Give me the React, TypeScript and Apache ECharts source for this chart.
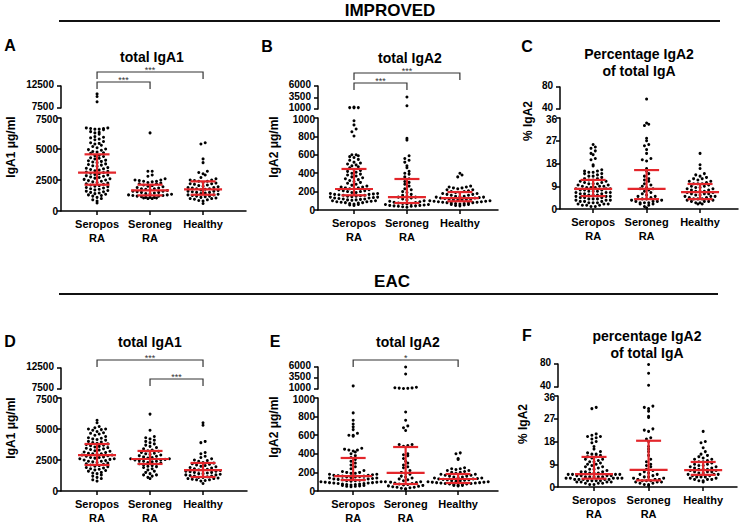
import React, { useEffect, useRef } from "react";
import * as echarts from "echarts";

// ---------- categories & ticks ----------
const categories = ["Seropos\nRA", "Seroneg\nRA", "Healthy"];
const ticksIgA1Upper = [7500, 12500];
const ticksIgA1Lower = [0, 2500, 5000, 7500];
const ticksIgA2Upper = [1000, 3500, 6000];
const ticksIgA2Lower = [0, 200, 400, 600, 800, 1000];
const ticksPctUpper = [40, 80];
const ticksPctLower = [0, 9, 18, 27, 36];

// ---------- IMPROVED: total IgA1 (A) ----------
const aSeropos = [10700, 10100, 8900, 6700, 6700, 6650, 6650, 6600, 6600, 6550, 6400, 6350, 6300, 6200, 6000, 5950, 5900, 5800, 5750, 5600, 5500, 5450, 5400, 5300, 5200, 5100, 5000, 4950, 4900, 4800, 4750, 4700, 4650, 4500, 4450, 4400, 4300, 4250, 4200, 4100, 4050, 4000, 3950, 3900, 3800, 3750, 3700, 3650, 3600, 3500, 3450, 3400, 3350, 3300, 3250, 3200, 3150, 3100, 3050, 3000, 2950, 2900, 2850, 2800, 2750, 2700, 2650, 2600, 2550, 2500, 2450, 2400, 2350, 2300, 2250, 2200, 2150, 2100, 2050, 2000, 1950, 1900, 1850, 1800, 1750, 1700, 1650, 1600, 1550, 1500, 1450, 1400, 1350, 1300, 1250, 1200, 1100, 1000, 900, 800, 650];
const aSeroneg = [6300, 3200, 3200, 2900, 2800, 2600, 2500, 2500, 2450, 2400, 2400, 2350, 2300, 2250, 2200, 2200, 2100, 2050, 2000, 1950, 1900, 1850, 1800, 1800, 1750, 1700, 1650, 1600, 1600, 1550, 1500, 1500, 1450, 1400, 1400, 1350, 1300, 1300, 1250, 1250, 1200, 1200, 1150, 1100, 1100, 1100, 1050, 1050, 1000, 1000];
const aHealthy = [5500, 5400, 4200, 3900, 3200, 3100, 3000, 2900, 2700, 2600, 2500, 2500, 2450, 2400, 2400, 2300, 2250, 2200, 2200, 2150, 2100, 2050, 2000, 1950, 1900, 1900, 1850, 1800, 1800, 1750, 1700, 1650, 1600, 1600, 1550, 1500, 1500, 1450, 1400, 1350, 1300, 1300, 1250, 1200, 1200, 1150, 1100, 1050, 1000, 1000, 950, 900, 850, 800, 600];
const aMedian = [3090, 1670, 1750];
const aQ1 = [2120, 1260, 1310];
const aQ3 = [4570, 2120, 2390];

// ---------- IMPROVED: total IgA2 (B) ----------
const bSeropos = [1450, 1300, 1300, 1250, 970, 925, 880, 850, 805, 600, 600, 590, 580, 570, 550, 540, 520, 510, 500, 490, 480, 470, 460, 440, 430, 420, 410, 400, 390, 380, 370, 360, 350, 340, 330, 320, 310, 300, 290, 280, 270, 260, 250, 250, 240, 240, 230, 230, 220, 220, 210, 210, 200, 200, 190, 190, 180, 180, 175, 170, 170, 165, 160, 160, 155, 150, 150, 145, 140, 140, 135, 130, 130, 125, 120, 120, 115, 110, 110, 105, 100, 100, 95, 90, 90, 85, 80, 80, 75, 70, 65, 60, 55, 50];
const bSeroneg = [3600, 1700, 780, 760, 590, 560, 540, 520, 480, 460, 420, 400, 390, 360, 340, 310, 300, 280, 260, 230, 220, 200, 190, 170, 160, 150, 140, 140, 130, 120, 110, 100, 95, 90, 85, 80, 75, 70, 70, 65, 60, 60, 55, 50, 50, 45, 45, 40, 40, 35, 30];
const bHealthy = [400, 380, 360, 260, 250, 250, 240, 240, 230, 220, 220, 210, 200, 200, 190, 190, 180, 180, 170, 170, 160, 160, 150, 150, 145, 140, 140, 135, 130, 130, 125, 120, 120, 115, 110, 110, 105, 100, 100, 95, 95, 90, 90, 85, 85, 80, 80, 75, 75, 70, 70, 65, 60, 60, 55, 50, 45];
const bMedian = [228, 141, 130];
const bQ1 = [160, 76, 95];
const bQ3 = [446, 337, 195];

// ---------- IMPROVED: % IgA2 (C) ----------
const cSeropos = [25.5, 24.5, 24, 23, 22, 21.5, 20, 19.5, 17.5, 17, 15.5, 15, 15, 14.5, 14.5, 14, 14, 13.5, 13, 13, 12.5, 12, 12, 11.5, 11.5, 11, 11, 10.5, 10.5, 10, 10, 10, 9.5, 9.5, 9, 9, 9, 8.5, 8.5, 8.5, 8, 8, 8, 7.5, 7.5, 7.5, 7, 7, 7, 6.5, 6.5, 6.5, 6, 6, 6, 5.5, 5.5, 5.5, 5, 5, 5, 4.5, 4.5, 4.5, 4, 4, 4, 3.5, 3.5, 3.5, 3, 3, 3, 2.5, 2.5, 2.5, 2, 2, 2, 1.5, 1.5, 1.5, 1, 1];
const cSeroneg = [58, 34, 33.5, 33, 28, 27, 25.5, 25, 23.5, 22, 20, 19.5, 19, 16, 15, 14, 13, 12, 11.5, 11, 10, 9.5, 9, 8.5, 8, 8, 7.5, 7, 6.5, 6, 5.5, 5, 5, 4.5, 4, 4, 3.5, 3.5, 3, 3, 3, 2.5, 2.5, 2.5, 2, 2, 1.5, 1, 0.5];
const cHealthy = [22, 17.5, 16, 14, 13.5, 13, 12.5, 12, 12, 11.5, 11, 11, 10.5, 10, 10, 10, 9.5, 9, 9, 8.5, 8.5, 8, 8, 7.5, 7.5, 7, 7, 7, 6.5, 6.5, 6, 6, 6, 5.5, 5.5, 5, 5, 5, 4.5, 4.5, 4, 4, 4, 3.5, 3.5, 3, 3, 3, 2.5, 2.5, 2, 2];
const cMedian = [8.0, 8.0, 6.7];
const cQ1 = [5.1, 3.9, 3.9];
const cQ3 = [11.5, 15.4, 9.9];

// ---------- EAC: total IgA1 (D) ----------
const dSeropos = [5700, 5500, 5200, 5100, 5000, 5000, 4950, 4900, 4800, 4700, 4650, 4600, 4500, 4400, 4300, 4250, 4200, 4150, 4100, 4000, 3950, 3900, 3850, 3800, 3750, 3700, 3650, 3600, 3550, 3500, 3450, 3400, 3350, 3300, 3250, 3200, 3150, 3100, 3050, 3000, 3000, 2950, 2900, 2900, 2850, 2800, 2750, 2700, 2700, 2650, 2600, 2600, 2550, 2500, 2450, 2400, 2400, 2350, 2300, 2250, 2200, 2150, 2100, 2050, 2000, 1950, 1900, 1850, 1800, 1750, 1700, 1650, 1600, 1500, 1450, 1400, 1300, 1200, 1100, 1000, 900, 800];
const dSeroneg = [6200, 4900, 4400, 4300, 4200, 4100, 4000, 3900, 3800, 3700, 3600, 3500, 3400, 3300, 3250, 3200, 3100, 3050, 3000, 2950, 2900, 2850, 2800, 2750, 2700, 2650, 2600, 2600, 2550, 2500, 2500, 2450, 2400, 2400, 2350, 2300, 2250, 2200, 2150, 2100, 2050, 2000, 1950, 1900, 1800, 1700, 1600, 1500, 1400, 1300, 1300, 1200, 1100, 1000];
const dHealthy = [5500, 5300, 4000, 3900, 3100, 3000, 2800, 2700, 2600, 2500, 2450, 2400, 2300, 2250, 2200, 2150, 2100, 2050, 2000, 1950, 1900, 1850, 1800, 1750, 1700, 1700, 1650, 1600, 1600, 1550, 1500, 1500, 1450, 1400, 1400, 1350, 1300, 1300, 1250, 1200, 1200, 1150, 1100, 1100, 1050, 1000, 1000, 950, 900, 900, 850, 800, 600];
const dMedian = [2900, 2580, 1690];
const dQ1 = [2100, 2180, 1130];
const dQ3 = [3790, 3230, 2260];

// ---------- EAC: total IgA2 (E) ----------
const eSeropos = [1700, 840, 760, 720, 690, 660, 620, 600, 600, 590, 460, 450, 440, 440, 430, 420, 400, 380, 360, 340, 320, 300, 280, 260, 240, 220, 210, 200, 200, 190, 190, 180, 180, 175, 170, 170, 165, 160, 160, 155, 150, 150, 145, 140, 140, 135, 130, 130, 125, 120, 120, 115, 110, 110, 105, 100, 100, 100, 95, 95, 90, 90, 85, 85, 80, 80, 75, 75, 70, 70, 65, 60, 60, 55, 50, 50, 45];
const eSeroneg = [6000, 4400, 1400, 1300, 1250, 1200, 1150, 1100, 850, 760, 700, 680, 650, 500, 500, 490, 480, 400, 390, 380, 350, 320, 300, 280, 260, 250, 220, 200, 190, 180, 160, 150, 140, 130, 120, 110, 100, 95, 90, 85, 80, 75, 70, 65, 60, 55, 50, 45, 40, 40, 35, 30, 25, 20];
const eHealthy = [410, 400, 350, 340, 250, 240, 240, 230, 220, 220, 210, 200, 200, 190, 180, 180, 170, 170, 160, 160, 150, 150, 145, 140, 140, 135, 130, 130, 125, 120, 120, 115, 110, 110, 105, 100, 100, 95, 95, 90, 90, 85, 85, 80, 80, 75, 75, 70, 70, 65, 60, 60, 55];
const eMedian = [161, 194, 129];
const eQ1 = [118, 75, 86];
const eQ3 = [355, 473, 183];

// ---------- EAC: % IgA2 (F) ----------
const fSeropos = [31.5, 31, 21, 20.5, 20, 20, 19.5, 19, 18, 17.5, 16, 15, 14, 13.5, 13, 13, 12.5, 12, 12, 11.5, 11, 11, 10.5, 10, 10, 9.5, 9, 9, 8.5, 8, 8, 7.5, 7, 7, 6.5, 6, 6, 6, 5.5, 5.5, 5.5, 5, 5, 5, 5, 4.5, 4.5, 4.5, 4.5, 4, 4, 4, 4, 4, 3.5, 3.5, 3.5, 3.5, 3.5, 3, 3, 3, 3, 3, 2.5, 2.5, 2.5, 2.5, 2, 2, 2, 2, 1.5, 1.5, 1.5, 1, 1];
const fSeroneg = [79, 64, 43, 32, 31.5, 31, 30, 28, 27.5, 23, 22.5, 22, 19.5, 19, 18, 16, 15, 14, 12.5, 11, 10, 9, 8.5, 8, 7, 6.5, 6, 5.5, 5, 5, 4.5, 4, 4, 3.5, 3.5, 3, 3, 3, 2.5, 2.5, 2.5, 2, 2, 2, 1.5, 1.5, 1, 1, 0.5];
const fHealthy = [22, 18, 17.5, 15.5, 14, 13, 12.5, 12, 11.5, 11, 11, 10.5, 10, 10, 9.5, 9, 9, 8.5, 8.5, 8, 8, 7.5, 7.5, 7, 7, 7, 6.5, 6.5, 6, 6, 6, 5.5, 5.5, 5, 5, 5, 4.5, 4.5, 4, 4, 4, 3.5, 3.5, 3, 3, 3, 2.5, 2.5, 2];
const fMedian = [5.1, 6.8, 6.7];
const fQ1 = [3.3, 2.6, 4.8];
const fQ3 = [11.9, 18.3, 9.9];

// ---------- layout (positions / styles only) ----------
const FONT = '"Liberation Sans", Arial, Helvetica, sans-serif';
const RED = "#e3262b";
const Y_FONT = 10;

type Panel = {
  letter: string; title: string; yName: string;
  groups: number[][]; med: number[]; q1: number[]; q3: number[];
  upTicks: number[]; loTicks: number[];
  left: number; right: number; xMin: number; xMax: number;
  upTop: number; upBot: number; loTop: number; loBot: number;
  letterPos: [number, number]; titlePos: [number, number]; yNamePos: [number, number];
  brackets: { from: number; to: number; y: number; label: string }[];
};

const panels: Panel[] = [
  { letter: "A", title: "total IgA1", yName: "IgA1 μg/ml", groups: [aSeropos, aSeroneg, aHealthy], med: aMedian, q1: aQ1, q3: aQ3,
    upTicks: ticksIgA1Upper, loTicks: ticksIgA1Lower, left: 61, right: 246, xMin: 0.32, xMax: 3.81,
    upTop: 86, upBot: 108, loTop: 118, loBot: 211, letterPos: [10, 45], titlePos: [152, 57], yNamePos: [11, 147],
    brackets: [{ from: 1, to: 3, y: 72, label: "***" }, { from: 1, to: 2, y: 82, label: "***" }] },
  { letter: "B", title: "total IgA2", yName: "IgA2 μg/ml", groups: [bSeropos, bSeroneg, bHealthy], med: bMedian, q1: bQ1, q3: bQ3,
    upTicks: ticksIgA2Upper, loTicks: ticksIgA2Lower, left: 318, right: 498, xMin: 0.32, xMax: 3.72,
    upTop: 86, upBot: 109, loTop: 118, loBot: 210, letterPos: [267, 46], titlePos: [410, 58], yNamePos: [274, 147],
    brackets: [{ from: 1, to: 3, y: 73, label: "***" }, { from: 1, to: 2, y: 83, label: "***" }] },
  { letter: "C", title: "Percentage IgA2\nof total IgA", yName: "% IgA2", groups: [cSeropos, cSeroneg, cHealthy], med: cMedian, q1: cQ1, q3: cQ3,
    upTicks: ticksPctUpper, loTicks: ticksPctLower, left: 560, right: 738, xMin: 0.38, xMax: 3.71,
    upTop: 87, upBot: 109, loTop: 118, loBot: 209, letterPos: [527, 46], titlePos: [639, 62], yNamePos: [528, 121],
    brackets: [] },
  { letter: "D", title: "total IgA1", yName: "IgA1 μg/ml", groups: [dSeropos, dSeroneg, dHealthy], med: dMedian, q1: dQ1, q3: dQ3,
    upTicks: ticksIgA1Upper, loTicks: ticksIgA1Lower, left: 61, right: 247, xMin: 0.32, xMax: 3.83,
    upTop: 368, upBot: 389, loTop: 398, loBot: 491, letterPos: [10, 341], titlePos: [150, 342], yNamePos: [11, 428],
    brackets: [{ from: 1, to: 3, y: 360, label: "***" }, { from: 2, to: 3, y: 379, label: "***" }] },
  { letter: "E", title: "total IgA2", yName: "IgA2 μg/ml", groups: [eSeropos, eSeroneg, eHealthy], med: eMedian, q1: eQ1, q3: eQ3,
    upTicks: ticksIgA2Upper, loTicks: ticksIgA2Lower, left: 318, right: 498, xMin: 0.33, xMax: 3.76,
    upTop: 367, upBot: 389, loTop: 398, loBot: 491, letterPos: [275, 341], titlePos: [408, 342], yNamePos: [274, 427],
    brackets: [{ from: 1, to: 3, y: 360, label: "*" }] },
  { letter: "F", title: "percentage IgA2\nof total IgA", yName: "% IgA2", groups: [fSeropos, fSeroneg, fHealthy], med: fMedian, q1: fQ1, q3: fQ3,
    upTicks: ticksPctUpper, loTicks: ticksPctLower, left: 558, right: 737, xMin: 0.34, xMax: 3.62,
    upTop: 364, upBot: 387, loTop: 396, loBot: 487, letterPos: [527, 335], titlePos: [647, 344], yNamePos: [523, 424],
    brackets: [] },
];

// beeswarm-style horizontal spreading (layout only; y values untouched)
function swarm(values: number[], cat: number, segMin: number, segMax: number, hPx: number, xUnitPx: number) {
  const ppu = hPx / (segMax - segMin);
  const rowH = 3.8;
  const dx = 4.3 / xUnitPx;
  const bins = new Map<number, number[]>();
  values.forEach((v) => {
    const k = Math.round(((v - segMin) * ppu) / rowH);
    if (!bins.has(k)) bins.set(k, []);
    bins.get(k)!.push(v);
  });
  const out: number[][] = [];
  bins.forEach((arr) => {
    arr.sort((a, b) => a - b);
    const n = arr.length;
    const slots = Array.from({ length: n }, (_, j) => j - (n - 1) / 2).sort((a, b) => Math.abs(a) - Math.abs(b) || a - b);
    arr.forEach((v, i) => out.push([cat + slots[i] * dx, v]));
  });
  return out;
}

const axisLineStyle = { color: "#000", width: 1.5 };
const labelStyle = { color: "#000", fontSize: 11, fontWeight: "bold" as const, fontFamily: FONT };
const yRichBase = { color: "#000", fontSize: Y_FONT, fontWeight: "bold" as const, fontFamily: FONT, lineHeight: 8 };

function buildOption() {
  const grid: any[] = [], xAxis: any[] = [], yAxis: any[] = [], series: any[] = [];
  panels.forEach((p, pi) => {
    const upMin = p.upTicks[0], upMax = p.upTicks[p.upTicks.length - 1];
    const loMin = p.loTicks[0], loMax = p.loTicks[p.loTicks.length - 1];
    const width = p.right - p.left;
    const xUnitPx = width / (p.xMax - p.xMin);
    const ui = 2 * pi, li = 2 * pi + 1;
    grid.push({ left: p.left, top: p.upTop, width, height: p.upBot - p.upTop, outerBoundsMode: "none" });
    grid.push({ left: p.left, top: p.loTop, width, height: p.loBot - p.loTop, outerBoundsMode: "none" });
    xAxis.push({ gridIndex: ui, type: "value", min: p.xMin, max: p.xMax, show: false });
    xAxis.push({
      gridIndex: li, type: "value", min: p.xMin, max: p.xMax, splitLine: { show: false },
      axisLine: { show: true, lineStyle: axisLineStyle },
      axisTick: { show: true, customValues: [1, 2, 3], length: 4, lineStyle: axisLineStyle },
      axisLabel: { ...labelStyle, customValues: [1, 2, 3], margin: 6, lineHeight: 14, formatter: (v: number) => categories[Math.round(v) - 1] },
    });
    const yCommon = {
      type: "value", splitLine: { show: false },
      axisLine: { show: true, lineStyle: axisLineStyle },
    };
    const rich = {
      n: { ...yRichBase },
      dn: { ...yRichBase, padding: [2, 0, 0, 0] },
    };
    // upper segment: ticks from the axis, labels drawn as graphic text (see below)
    yAxis.push({ ...yCommon, gridIndex: ui, min: upMin, max: upMax,
      axisTick: { show: true, customValues: p.upTicks, length: 4, lineStyle: axisLineStyle },
      axisLabel: { show: false } });
    yAxis.push({ ...yCommon, gridIndex: li, min: loMin, max: loMax,
      axisTick: { show: true, customValues: p.loTicks, length: 4, lineStyle: axisLineStyle },
      axisLabel: { ...yRichBase, margin: 3, customValues: p.loTicks, rich, showMinLabel: true, showMaxLabel: true,
        formatter: (v: number) => (v === loMax ? `{dn|${v}}` : `{n|${v}}`) } });

    const upPts: number[][] = [], loPts: number[][] = [];
    p.groups.forEach((vals, gi) => {
      const cat = gi + 1;
      upPts.push(...swarm(vals.filter((v) => v > loMax), cat, upMin, upMax, p.upBot - p.upTop, xUnitPx));
      loPts.push(...swarm(vals.filter((v) => v <= loMax), cat, loMin, loMax, p.loBot - p.loTop, xUnitPx));
    });
    const dot = { type: "scatter", symbol: "circle", symbolSize: 3, itemStyle: { color: "#000", opacity: 1 }, silent: true, z: 2 };
    series.push({ ...dot, xAxisIndex: ui, yAxisIndex: ui, data: upPts });
    series.push({ ...dot, xAxisIndex: li, yAxisIndex: li, data: loPts });
    series.push({
      type: "custom", xAxisIndex: li, yAxisIndex: li, z: 5, silent: true,
      data: p.med.map((m, i) => [i + 1, m, p.q1[i], p.q3[i]]),
      encode: { x: 0, y: 1 },
      renderItem: (_params: any, api: any) => {
        const x = api.value(0);
        const pm = api.coord([x, api.value(1)]);
        const p1 = api.coord([x, api.value(2)]);
        const p3 = api.coord([x, api.value(3)]);
        const st = { stroke: RED, lineWidth: 2.2 };
        const hw = 19, cw = 12.5;
        return {
          type: "group",
          children: [
            { type: "line", shape: { x1: p1[0], y1: p1[1], x2: p3[0], y2: p3[1] }, style: st },
            { type: "line", shape: { x1: pm[0] - hw, y1: pm[1], x2: pm[0] + hw, y2: pm[1] }, style: st },
            { type: "line", shape: { x1: p1[0] - cw, y1: p1[1], x2: p1[0] + cw, y2: p1[1] }, style: st },
            { type: "line", shape: { x1: p3[0] - cw, y1: p3[1], x2: p3[0] + cw, y2: p3[1] }, style: st },
          ],
        };
      },
    });
  });
  return { animation: false, backgroundColor: "#fff", grid, xAxis, yAxis, series };
}

export default function App() {
  const ref = useRef<HTMLDivElement>(null);
  useEffect(() => {
    const chart = echarts.init(ref.current!, null, { renderer: "svg" });
    chart.setOption(buildOption());
    const txt = (x: number, y: number, text: string, size: number, extra: any = {}) => ({
      type: "text", x, y, ...extra,
      style: { text, fontSize: size, fontWeight: "bold", fontFamily: FONT, fill: "#000", align: "center", verticalAlign: "middle", ...(extra.style || {}) },
    });
    const g: any[] = [
      txt(390, 10, "IMPROVED", 17),
      { type: "line", shape: { x1: 59, y1: 21, x2: 720, y2: 21 }, style: { stroke: "#111", lineWidth: 2 } },
      txt(392, 281, "EAC", 17),
      { type: "line", shape: { x1: 59, y1: 294, x2: 718, y2: 294 }, style: { stroke: "#111", lineWidth: 2 } },
    ];
    panels.forEach((p, pi) => {
      g.push(txt(p.letterPos[0], p.letterPos[1], p.letter, 16));
      g.push(txt(p.titlePos[0], p.titlePos[1], p.title, 14, { style: { lineHeight: 17 } }));
      g.push(txt(p.yNamePos[0], p.yNamePos[1], p.yName, 12, { rotation: Math.PI / 2 }));
      // upper-segment tick labels, placed through the axis scale
      p.upTicks.forEach((v) => {
        const py = chart.convertToPixel({ yAxisIndex: 2 * pi }, v) as number;
        g.push(txt(p.left - 7, py - 1.5, String(v), Y_FONT, { style: { align: "right" } }));
      });
      p.brackets.forEach((b) => {
        const x1 = chart.convertToPixel({ xAxisIndex: 2 * pi + 1 }, b.from) as number;
        const x2 = chart.convertToPixel({ xAxisIndex: 2 * pi + 1 }, b.to) as number;
        g.push({ type: "polyline", shape: { points: [[x1, b.y + 7], [x1, b.y], [x2, b.y], [x2, b.y + 7]] }, style: { stroke: "#333", lineWidth: 1.2, fill: null } });
        g.push(txt((x1 + x2) / 2, b.y - 2, b.label, 9, { style: { fontWeight: "normal", fill: "#333" } }));
      });
    });
    chart.setOption({ graphic: g });
    return () => chart.dispose();
  }, []);
  return <div ref={ref} style={{ position: "absolute", left: 0, top: 0, width: 741, height: 525, background: "#fff" }} />;
}
